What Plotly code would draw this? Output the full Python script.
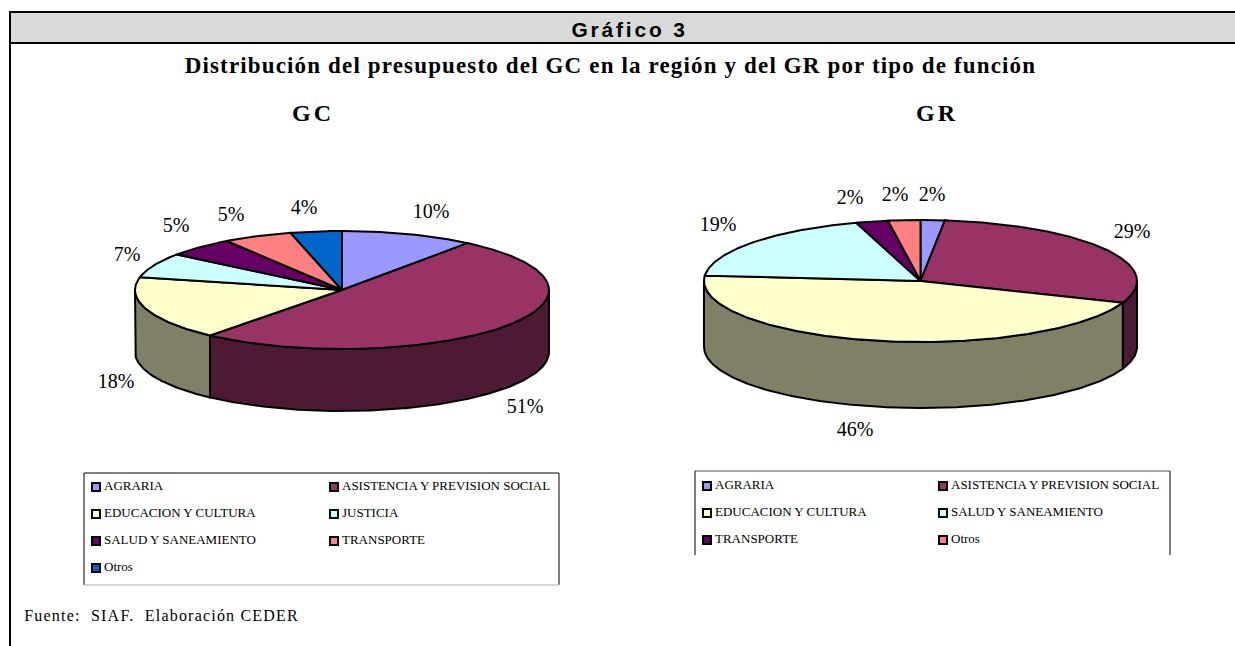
import json
import math
import plotly.graph_objects as go

# ---- data ----
GC_NAMES = ["AGRARIA", "ASISTENCIA Y PREVISION SOCIAL", "EDUCACION Y CULTURA", "JUSTICIA",
            "SALUD Y SANEAMIENTO", "TRANSPORTE", "Otros"]
GC_VALUES = [10.4, 50.6, 17.5, 6.8, 5.3, 5.4, 4.0]
GC_COLORS = ["#9999FF", "#993366", "#FFFFCC", "#CCFFFF", "#660066", "#FF8080", "#0066CC"]
GC_SIDES = ["#4C4C80", "#4D1A33", "#808066", "#668080", "#330033", "#804040", "#003366"]

GR_NAMES = ["AGRARIA", "ASISTENCIA Y PREVISION SOCIAL", "EDUCACION Y CULTURA",
            "SALUD Y SANEAMIENTO", "TRANSPORTE", "Otros"]
GR_VALUES = [1.8, 29.0, 45.6, 18.8, 2.4, 2.4]
GR_COLORS = ["#9999FF", "#993366", "#FFFFCC", "#CCFFFF", "#660066", "#FF8080"]
GR_SIDES = ["#4C4C80", "#4D1A33", "#808066", "#668080", "#330033", "#804040"]

TITLE_BAR = "Gráfico 3"
TITLE = "Distribución del presupuesto del GC en la región y del GR por tipo de función"
SOURCE = "Fuente:  SIAF.  Elaboración CEDER"

# ---- layout constants (pixels of the page) ----
W, H = 1235, 646
SERIF = "Liberation Serif"
SANS = "Liberation Sans"
GC_GEOM = dict(cx=342, cy=290, rx=207, ry=59, depth=62)
GR_GEOM = dict(cx=920.5, cy=281, rx=216.5, ry=61, depth=66)
GC_LABEL_POS = [(431, 213), (525, 408), (116, 383), (127, 256), (176, 227), (231, 216), (304, 209)]
GR_LABEL_POS = [(932, 196), (1132, 233), (855, 431), (718, 226), (850, 199), (895, 196)]

fig = go.Figure()


def ellipse(g, deg, dy=0):
    a = math.radians(deg)
    return g["cx"] + g["rx"] * math.sin(a), g["cy"] - g["ry"] * math.cos(a) + dy


def poly(xs, ys, fill):
    fig.add_trace(go.Scatter(x=xs, y=ys, mode="lines", fill="toself", fillcolor=fill,
                             line=dict(color="black", width=2), hoverinfo="skip",
                             showlegend=False))


def draw_pie(values, colors, sides, g, label_pos):
    total = sum(values)
    spans, start = [], 0.0
    for v in values:
        end = start + v / total * 360
        spans.append((start, end))
        start = end
    order = sorted(range(len(values)), key=lambda i: -abs(sum(spans[i]) / 2 - 180))
    for i in order:
        a0, a1 = max(spans[i][0], 90), min(spans[i][1], 270)
        if a1 <= a0:
            continue
        n = max(2, int((a1 - a0) * 1.5))
        angs = [a0 + (a1 - a0) * k / n for k in range(n + 1)]
        top = [ellipse(g, a) for a in angs]
        bot = [ellipse(g, a, g["depth"]) for a in reversed(angs)]
        pts = top + bot + [top[0]]
        poly([p[0] for p in pts], [p[1] for p in pts], sides[i])
    for i, (a0, a1) in enumerate(spans):
        n = max(2, int((a1 - a0) * 1.5))
        pts = [(g["cx"], g["cy"])] + [ellipse(g, a0 + (a1 - a0) * k / n) for k in range(n + 1)]
        pts.append((g["cx"], g["cy"]))
        poly([p[0] for p in pts], [p[1] for p in pts], colors[i])
    fig.add_trace(go.Scatter(x=[p[0] for p in label_pos], y=[p[1] for p in label_pos],
                             mode="text", text=[f"{round(v / total * 100)}%" for v in values],
                             textposition="middle center",
                             textfont=dict(family=SERIF, size=20, color="black"),
                             hoverinfo="skip", showlegend=False))


def draw_legend(names, colors, x0, x1, rows_y):
    xs, ys = [], []
    for k, name in enumerate(names):
        xs.append(x1 if k % 2 else x0)
        ys.append(rows_y[k // 2])
    fig.add_trace(go.Scatter(x=xs, y=ys, mode="markers",
                             marker=dict(symbol="square", size=8, color=colors,
                                         line=dict(color="black", width=2)),
                             hoverinfo="skip", showlegend=False))
    fig.add_trace(go.Scatter(x=[x + 8 for x in xs], y=ys, mode="text", text=names,
                             textposition="middle right",
                             textfont=dict(family=SERIF, size=13, color="black"),
                             hoverinfo="skip", showlegend=False))


def seg(x0, y0, x1, y1, color="black", width=1):
    return dict(type="line", x0=x0, x1=x1, y0=y0, y1=y1, line=dict(color=color, width=width))


shapes = [
    dict(type="rect", x0=10, x1=W + 5, y0=12, y1=43, fillcolor="#D9D9D9", line=dict(width=0), layer="below"),
    seg(9, 12, W + 5, 12, width=2),
    seg(9, 43, W + 5, 43, width=2),
    seg(10, 11, 10, H + 5, width=2),
    # legend boxes
    seg(84, 473, 559, 473), seg(84, 473, 84, 585), seg(559, 473, 559, 585),
    seg(84, 585, 559, 585, "#C8C8C8", 1.5),
    seg(695, 471, 1170, 471, "#555555"), seg(695, 471, 695, 555), seg(1170, 471, 1170, 555),
]

draw_pie(GC_VALUES, GC_COLORS, GC_SIDES, GC_GEOM, GC_LABEL_POS)
draw_pie(GR_VALUES, GR_COLORS, GR_SIDES, GR_GEOM, GR_LABEL_POS)
draw_legend(GC_NAMES, GC_COLORS, 96, 334, [487, 514, 541, 568])
draw_legend(GR_NAMES, GR_COLORS, 707, 943, [486, 513, 540])


def note(x, y, text, size, family=SERIF, bold=False, anchor="center"):
    return dict(x=x, y=y, xref="x", yref="y", text=f"<b>{text}</b>" if bold else text,
                showarrow=False, xanchor=anchor, yanchor="middle",
                font=dict(family=family, size=size, color="black"))


annotations = [
    note(629, 29, TITLE_BAR, 21, SANS, True),
    note(610, 65, TITLE, 23, SERIF, True),
    note(313, 113, "GC", 24, SERIF, True),
    note(937, 113, "GR", 24, SERIF, True),
    note(42, 615, SOURCE, 16, SERIF, False, "left"),
]
ANNOTATION_SPACING = [2.8, 1.15, 3, 3, 1.2]

fig.update_layout(
    width=W, height=H, margin=dict(l=0, r=0, t=0, b=0),
    paper_bgcolor="white", plot_bgcolor="white", showlegend=False,
    xaxis=dict(range=[0, W], visible=False, fixedrange=True),
    yaxis=dict(range=[H, 0], visible=False, fixedrange=True),
    shapes=shapes, annotations=annotations,
)
post = (
    "document.body.style.margin='0';document.body.style.overflow='hidden';"
    f"var sp={json.dumps(ANNOTATION_SPACING)};"
    "document.querySelectorAll('.annotation-text').forEach(function(el,i){"
    "el.style.letterSpacing=sp[i]+'px';});"
)
fig.write_html("out.html", config=dict(displayModeBar=False), post_script=post)
